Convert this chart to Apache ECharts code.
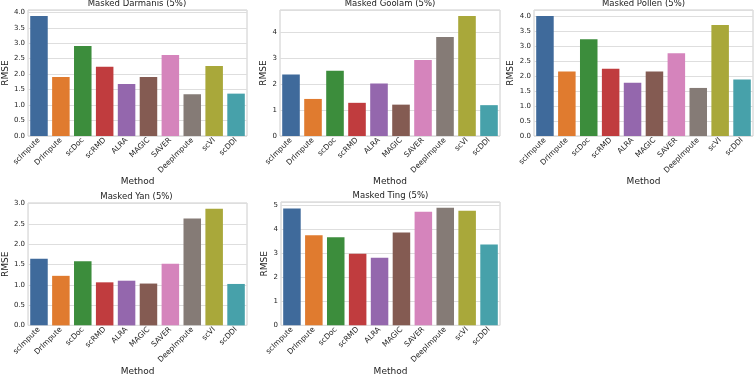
<!DOCTYPE html>
<html>
<head>
<meta charset="utf-8">
<script src="https://cdn.jsdelivr.net/npm/echarts@6/dist/echarts.min.js"></script>
<style>
  html, body { margin: 0; padding: 0; background: #fff; }
  #main { width: 755px; height: 377px; }
</style>
</head>
<body>
<div id="main"></div>
<script>
// categories shared by every panel
const methods = ['scImpute', 'DrImpute', 'scDoc', 'scRMD', 'ALRA', 'MAGIC', 'SAVER', 'DeepImpute', 'scVI', 'scDDI']

// RMSE, one array per dataset
const darmanis = [3.88, 1.91, 2.91, 2.24, 1.68, 1.91, 2.62, 1.35, 2.26, 1.37]
const goolam = [2.37, 1.43, 2.52, 1.28, 2.03, 1.21, 2.93, 3.82, 4.63, 1.19]
const pollen = [4.02, 2.16, 3.24, 2.25, 1.78, 2.16, 2.77, 1.61, 3.72, 1.89]
const yan = [1.64, 1.22, 1.58, 1.06, 1.10, 1.03, 1.52, 2.63, 2.87, 1.02]
const ting = [4.85, 3.74, 3.66, 2.97, 2.81, 3.86, 4.72, 4.88, 4.76, 3.36]

const titles = ['Masked Darmanis (5%)', 'Masked Goolam (5%)', 'Masked Pollen (5%)', 'Masked Yan (5%)', 'Masked Ting (5%)']
const tickSteps = [0.5, 1, 0.5, 0.5, 1]
const tickDecimals = [1, 0, 1, 1, 0]

const palette = ['#3f6a9b', '#e07b2f', '#3c8d3c', '#c03c3e', '#9467ad', '#845b52', '#d584bc', '#857b76', '#a9a83a', '#47a1aa']

// panel boxes in px: left, top, width, height
const boxes = [
  [27, 10, 220, 126],
  [280, 10, 220, 126],
  [534, 10, 219, 126],
  [26, 203, 221, 126],
  [281, 202, 219, 127]
]
const nameGapsY = [18, 12, 19, 17, 12]

const allData = [darmanis, goolam, pollen, yan, ting]
const font = 'DejaVu Sans'
const ink = '#222'

const chart = echarts.init(document.getElementById('main'))

const option = {
  animation: false,
  color: palette,
  textStyle: { fontFamily: font },
  title: [],
  grid: [],
  xAxis: [],
  yAxis: [],
  series: []
}

allData.forEach((values, i) => {
  const [l, t, w, h] = boxes[i]
  // matplotlib pads the top by 5%
  const top = Math.max(...values) * 1.05
  option.title.push({
    text: titles[i],
    left: l + w / 2,
    top: t - 11,
    padding: 0,
    textAlign: 'center',
    textStyle: { fontSize: 8.5, fontWeight: 'normal', color: ink, fontFamily: font }
  })
  option.grid.push({
    left: l, top: t, width: w, height: h,
    show: true,
    borderColor: '#cccccc',
    borderWidth: 1,
    backgroundColor: '#fff'
  })
  option.xAxis.push({
    type: 'category',
    gridIndex: i,
    data: methods,
    name: 'Method',
    nameLocation: 'middle',
    nameGap: 39,
    nameTextStyle: { fontSize: 9, color: ink },
    axisLine: { show: false },
    axisTick: { show: false },
    axisLabel: { rotate: 45, interval: 0, fontSize: 7.5, color: ink, margin: 3 }
  })
  option.yAxis.push({
    type: 'value',
    gridIndex: i,
    min: 0,
    max: top,
    interval: tickSteps[i],
    name: 'RMSE',
    nameLocation: 'middle',
    nameGap: nameGapsY[i],
    nameTextStyle: { fontSize: 9, color: ink },
    axisLine: { show: false },
    axisTick: { show: false },
    axisLabel: {
      fontSize: 7, color: ink, margin: 3, showMaxLabel: false,
      formatter: v => v.toFixed(tickDecimals[i])
    },
    splitLine: { lineStyle: { color: '#dedede', width: 1 } }
  })
  option.series.push({
    type: 'bar',
    xAxisIndex: i,
    yAxisIndex: i,
    colorBy: 'data',
    barCategoryGap: '20%',
    data: values
  })
})

chart.setOption(option)
</script>
</body>
</html>
